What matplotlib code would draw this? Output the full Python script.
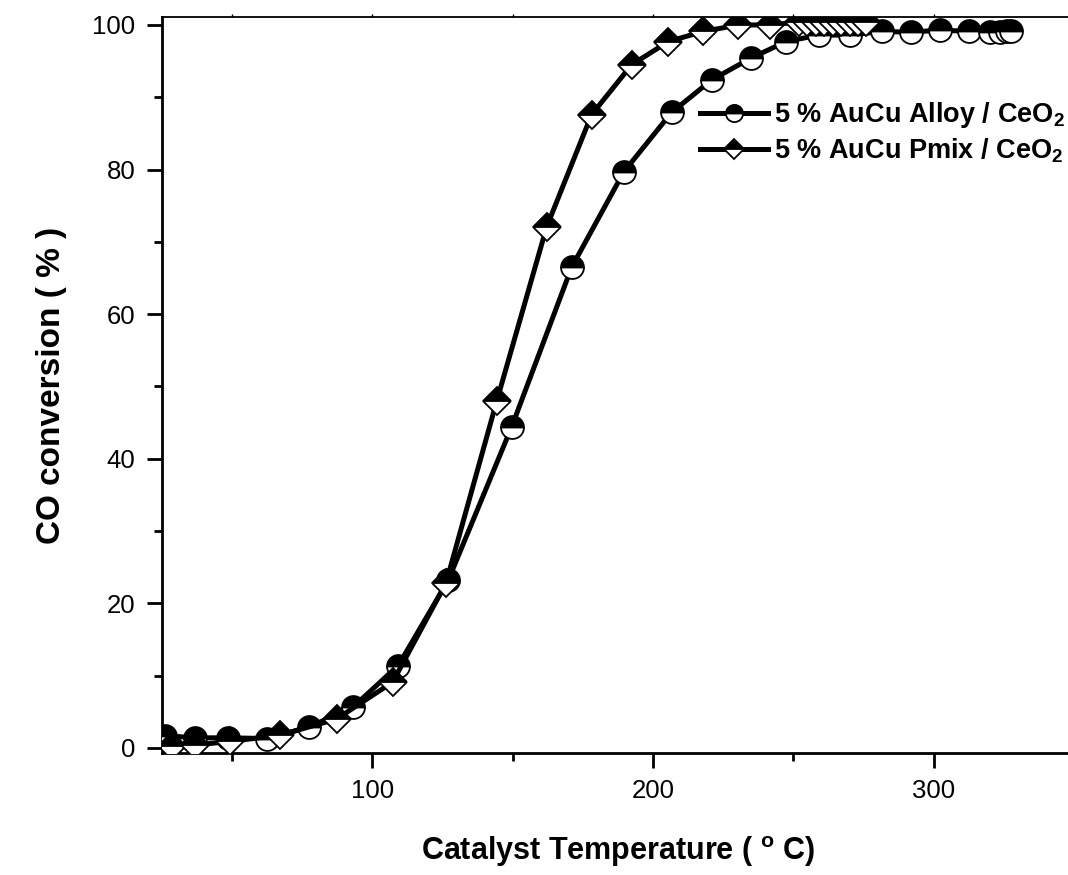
import matplotlib
matplotlib.use("Agg")
import matplotlib.pyplot as plt
from matplotlib.ticker import MultipleLocator

plt.rcParams['font.family'] = ['Liberation Sans', 'DejaVu Sans']
plt.rcParams['mathtext.fontset'] = 'custom'
plt.rcParams['mathtext.rm'] = 'Liberation Sans:bold'
plt.rcParams['mathtext.it'] = 'Liberation Sans:bold'
plt.rcParams['mathtext.bf'] = 'Liberation Sans:bold'

# CO conversion vs catalyst temperature
alloy_temp = [26, 36.8, 48.6, 62.3, 77.5, 93.2, 109.2, 127, 149.6, 171, 189.6,
              206.6, 220.9, 234.8, 247.4, 259, 270, 281.5, 292, 302.4, 312.7,
              320, 323.6, 326, 327.5]
alloy_conv = [1.7, 1.4, 1.4, 1.3, 2.9, 5.7, 11.4, 23.2, 44.4, 66.5, 79.7,
              87.9, 92.4, 95.4, 97.7, 98.6, 98.6, 99.1, 99.0, 99.3, 99.1,
              99.0, 99.0, 99.1, 99.2]

pmix_temp = [28.5, 36.8, 49.2, 67, 87.2, 107.2, 126.2, 144.3, 162.1, 178.1,
             192.4, 205.4, 217.9, 230.4, 241.7, 252, 255, 258, 261, 264, 267,
             270, 273, 276]
pmix_conv = [0.3, 0.4, 0.9, 1.75, 4.0, 9.1, 22.8, 48.0, 72.1, 87.6,
             94.5, 97.7, 99.1, 100.0, 100.0, 100.4, 100.4, 100.4, 100.4, 100.4,
             100.4, 100.4, 100.4, 100.4]

alloy_label = r'5 % AuCu Alloy / CeO$_{2}$'
pmix_label = r'5 % AuCu Pmix / CeO$_{2}$'

W, H = 1068, 875
fig = plt.figure(figsize=(W / 100, H / 100), dpi=100)
ax = fig.add_axes([162 / W, 1 - 753 / H, 912 / W, (753 - 17) / H])

ax.plot(alloy_temp, alloy_conv, color='black', lw=3.6, marker='o', ms=16.5,
        fillstyle='top', markerfacecolor='black', markerfacecoloralt='white',
        markeredgecolor='black', mew=1.3, label=alloy_label, zorder=3)
ax.plot(pmix_temp, pmix_conv, color='black', lw=3.6, marker='D', ms=14,
        fillstyle='top', markerfacecolor='black', markerfacecoloralt='white',
        markeredgecolor='black', mew=1.3, label=pmix_label, zorder=4)

ax.set_xlim(25, 350)
ax.set_ylim(-0.7, 101.1)

ax.xaxis.set_major_locator(MultipleLocator(100))
ax.xaxis.set_minor_locator(MultipleLocator(50))
ax.yaxis.set_major_locator(MultipleLocator(20))
ax.yaxis.set_minor_locator(MultipleLocator(10))

ax.tick_params(axis='both', which='major', direction='out', length=11, width=2,
               labelsize=18.5, pad=8)
ax.tick_params(axis='both', which='minor', direction='out', length=6, width=2)
ax.tick_params(axis='x', which='both', top=True, labeltop=False)
for t in ax.xaxis.get_major_ticks() + ax.xaxis.get_minor_ticks():
    t.tick2line.set_markersize(2)
    t.tick2line.set_markeredgewidth(1)

for side in ('left', 'bottom'):
    ax.spines[side].set_linewidth(2)
ax.spines['top'].set_linewidth(1.3)
ax.spines['right'].set_visible(False)

ax.set_xlabel(r'Catalyst Temperature ( $^{\mathrm{o}}$ C)', fontsize=22,
              fontweight='bold', labelpad=22)
ax.set_ylabel('CO conversion ( % )', fontsize=24, fontweight='bold',
              labelpad=18)

leg = fig.legend(loc='upper left', bbox_to_anchor=(700 / W, 1 - 100 / H),
                 frameon=False, handlelength=2.5,
                 handletextpad=0.22, labelspacing=0.25, borderpad=0,
                 borderaxespad=0, markerscale=0.75,
                 prop={'weight': 'bold', 'size': 19.5})

fig.savefig('out.png', dpi=100)
